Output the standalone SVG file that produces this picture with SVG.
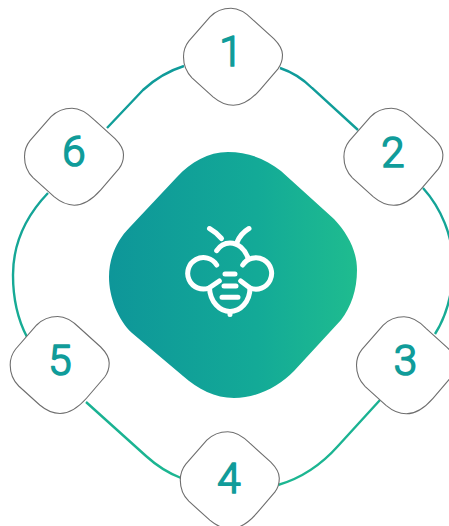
<svg xmlns="http://www.w3.org/2000/svg" xmlns:xlink="http://www.w3.org/1999/xlink" width="449" height="526" viewBox="0 0 449 526">
<style>
.n{fill:#fff;stroke:#6e6e6e;stroke-width:1.1}
.t{font-family:"Roboto","Liberation Sans",sans-serif;font-weight:300;font-size:42px;fill:#109c9a;stroke:#109c9a;stroke-width:1.7;stroke-linejoin:round;text-anchor:middle}
.c{fill:none;stroke:url(#ring);stroke-width:2.4}
.b{fill:none;stroke:#fff;stroke-width:5;stroke-linecap:round;stroke-linejoin:round}
</style>
<defs>
<linearGradient id="ring" gradientUnits="userSpaceOnUse" x1="0" y1="60" x2="0" y2="480"><stop offset="0" stop-color="#0f9a9a"/><stop offset="1" stop-color="#1cb691"/></linearGradient>
<linearGradient id="core" x1="0" y1="0" x2="1" y2="0"><stop offset="0" stop-color="#0e9699"/><stop offset=".6" stop-color="#13aa97"/><stop offset="1" stop-color="#1fbc8f"/></linearGradient>
<path id="d" d="M-23,-40C-17,-46 -10,-48.5 -2,-48.5C6,-48.5 14,-43 20,-37L41,-18C47,-12 49.5,-7 49.5,-2C49.5,4 48,8 45,12L27,33C20,41 11,48.5 0.3,48.5C-7,48.5 -14,45 -20,40L-41,21C-47,15 -49.5,7 -49.5,0C-49.5,-6 -48,-11 -44,-16Z"/>
</defs>
<g id="connectors">
<path class="c" d="M280,68C292,72 303,79 312,88L358,130"/>
<path class="c" d="M423,188C441,208 453,236 453,265C453,290 447,315 435,334"/>
<path class="c" d="M380,400L338,446C322,464 302,478 278,485"/>
<path class="c" d="M86,402L146,456C157,466 168,473 181,478"/>
<path class="c" d="M27,337C17,318 13,296 13,275C13,244 26,216 48,193"/>
<path class="c" d="M107,128L143,90C155,79 168,71 184,66"/>
</g>
<g id="center">
<path transform="translate(233,275)" fill="url(#core)" d="M-56,-98C-42,-113 -25,-123 -5,-123C15,-123 33,-116 48,-104L101,-56C115,-41 124,-24 124,-5C124,15 118,32 108,45L61,96C46,111 25,123 1,123C-18,123 -35,114 -50,101L-101,58C-115,45 -124,22 -124,2C-124,-15 -118,-33 -103,-48Z"/>
<g class="b">
<path d="M209.5,228.5C214,231 218,234.5 221.5,238.5"/>
<path d="M249,228.5C243,232 239,237 236.7,243"/>
<path d="M216.7,250.7C220,245.5 225,243 230,243C238,243 245,249 248,258"/>
<path d="M216.7,265A15.7,15.7 0 1 0 209,288L219.3,281"/>
<path d="M242.7,265A15.7,15.7 0 1 1 250,288L240.7,281"/>
<path d="M209.5,288C210,302 220,311.5 230,311.5C240,311.5 250,302 250,288"/>
<path d="M230,311.5V314.5M225,274H235M224,286H236M222,297.3H238"/>
</g>
</g>
<g id="node1"><use xlink:href="#d" href="#d" class="n" x="233" y="56.8"/><text class="t" x="231" y="66">1</text></g>
<g id="node2"><use xlink:href="#d" href="#d" class="n" x="393.4" y="156.8"/><text class="t" x="393" y="166.5">2</text></g>
<g id="node3"><use xlink:href="#d" href="#d" class="n" x="406" y="365.3"/><text class="t" x="405.5" y="375">3</text></g>
<g id="node4"><use xlink:href="#d" href="#d" class="n" x="229.8" y="480.2"/><text class="t" x="229" y="493">4</text></g>
<g id="node5"><use xlink:href="#d" href="#d" class="n" x="59.7" y="365"/><text class="t" x="60" y="374.5">5</text></g>
<g id="node6"><use xlink:href="#d" href="#d" class="n" x="74" y="156.7"/><text class="t" x="74" y="166">6</text></g>
</svg>
